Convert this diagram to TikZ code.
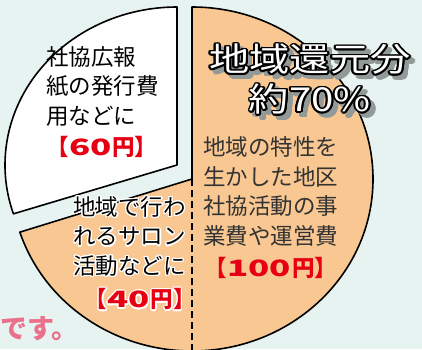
\documentclass[tikz,border=0pt]{standalone}
\usepackage{fontspec}
\usepackage{xcolor}
\usepackage{graphicx}
\usepackage{contour}
\setmainfont{Noto Sans CJK JP}
\definecolor{bgmint}{RGB}{231,243,241}
\definecolor{pieorange}{RGB}{248,199,146}
\definecolor{yenred}{RGB}{230,0,18}
\definecolor{tailpink}{RGB}{234,112,140}
\definecolor{shadowgray}{RGB}{145,153,153}
\newcommand{\yenamount}[1]{【\scalebox{1.55}[1]{#1}\kern1pt 円】}
\tikzset{
  slice/.style = {draw=black, line width=1.6pt, line join=round},
  body/.style = {font=\fontsize{22.5}{29.5}\selectfont, inner sep=0pt},
  price/.style = {font=\fontsize{22.5}{29.5}\selectfont\bfseries,
                  text=yenred, inner sep=0pt},
  headline/.style = {font=\fontsize{33}{40}\selectfont, inner sep=0pt,
                     xscale=1.22, align=center}
}
\begin{document}
\begin{tikzpicture}[x=1pt,y=1pt]
	\def \rx{181}
	\def \ry{172}
	
	\fill[bgmint] (0,0) rectangle (422,349);
	\clip (0,0) rectangle (422,349);
	
	% White slice (pulled out)
	\coordinate (tip) at (177,184);
	\filldraw[fill=white, slice] (tip) -- ++(0,158) arc[start angle=90, end angle=198, x radius=172, y radius=158] -- cycle;
	
	% Orange slices 100 + 40
	\coordinate (ctr) at (192,170);
	\fill[pieorange] (ctr) -- ++(0,\ry) arc[start angle=90, end angle=-162, x radius=\rx, y radius=\ry] -- cycle;
	\draw[slice] (ctr) -- ++(0,\ry) arc[start angle=90, end angle=-162, x radius=\rx, y radius=\ry] -- cycle;
	\draw[black, line width=1.2pt, dash pattern=on 7pt off 4pt] (ctr) -- ++(0,-\ry);
	
	% Headline
	\contourlength{1.6pt}
	\node[headline, text=shadowgray] (shade) at (314.5,264.5) {\contour{shadowgray}{地域還元分}\\\contour{shadowgray}{約70\%}};
	\node[headline, text=white] (head) at (310,269) {\contour{black}{地域還元分}\\\contour{black}{約70\%}};
	
	% 60
	\contourlength{1.2pt}
	\node[body, anchor=west, align=left] (paper) at (46,263) {社協広報\\紙の発行費\\用などに};
	\node[price] (paperyen) at (102,202) {\yenamount{60}};
	
	% 100
	\node[body, anchor=west, align=left, text=black!80] (local) at (203,157.5) {地域の特性を\\生かした地区\\社協活動の事\\業費や運営費};
	\node[price] (localyen) at (271,81) {\yenamount{100}};
	
	% 40
	\node[body, anchor=east, align=right] (salon) at (186,112) {\contour{white}{地域で行わ}\\\contour{white}{れるサロン}\\\contour{white}{活動などに}};
	\node[price, anchor=east] (salonyen) at (196,49) {\contour{white}{\yenamount{40}}};
	
	% tail of the sentence
	\node[font=\fontsize{27}{27}\selectfont\bfseries, text=tailpink, anchor=west, inner sep=0pt] (tail) at (0,20) {です。};
	
\end{tikzpicture}
\end{document}
